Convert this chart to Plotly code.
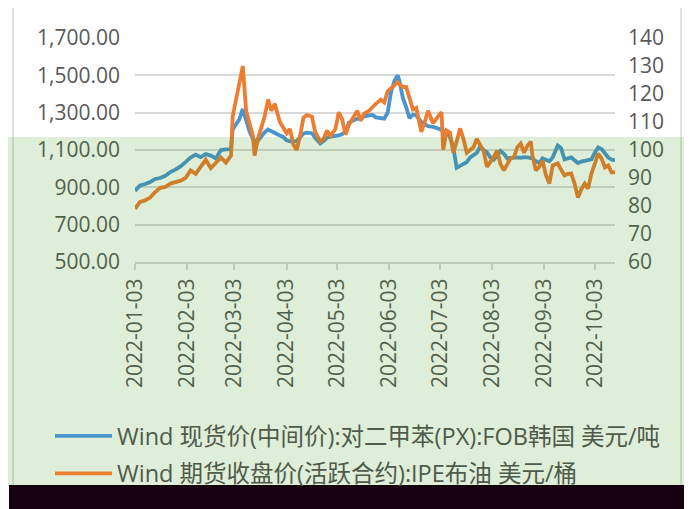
import plotly.graph_objects as go

dates = [
    "2022-01-03", "2022-01-06", "2022-01-09", "2022-01-12", "2022-01-15", "2022-01-18",
    "2022-01-21", "2022-01-24", "2022-01-27", "2022-01-30", "2022-02-02", "2022-02-05",
    "2022-02-08", "2022-02-11", "2022-02-14", "2022-02-17", "2022-02-20", "2022-02-23",
    "2022-02-26", "2022-03-01", "2022-03-02", "2022-03-04", "2022-03-06", "2022-03-08",
    "2022-03-10", "2022-03-12", "2022-03-14", "2022-03-15", "2022-03-17", "2022-03-19",
    "2022-03-21", "2022-03-23", "2022-03-25", "2022-03-27", "2022-03-30", "2022-04-01",
    "2022-04-03", "2022-04-05", "2022-04-07", "2022-04-09", "2022-04-11", "2022-04-13",
    "2022-04-15", "2022-04-18", "2022-04-20", "2022-04-23", "2022-04-25", "2022-04-27",
    "2022-04-29", "2022-05-02", "2022-05-04", "2022-05-06", "2022-05-08", "2022-05-10",
    "2022-05-12", "2022-05-15", "2022-05-17", "2022-05-19", "2022-05-22", "2022-05-24",
    "2022-05-26", "2022-05-29", "2022-05-31", "2022-06-02", "2022-06-04", "2022-06-06",
    "2022-06-08", "2022-06-09", "2022-06-11", "2022-06-13", "2022-06-15", "2022-06-17",
    "2022-06-19", "2022-06-22", "2022-06-24", "2022-06-26", "2022-06-28", "2022-06-29",
    "2022-07-02", "2022-07-04", "2022-07-05", "2022-07-07", "2022-07-09", "2022-07-11",
    "2022-07-13", "2022-07-15", "2022-07-17", "2022-07-19", "2022-07-21", "2022-07-23",
    "2022-07-25", "2022-07-27", "2022-07-29", "2022-07-31", "2022-08-02", "2022-08-04",
    "2022-08-06", "2022-08-08", "2022-08-10", "2022-08-12", "2022-08-14", "2022-08-16",
    "2022-08-18", "2022-08-20", "2022-08-22", "2022-08-24", "2022-08-26", "2022-08-27",
    "2022-08-29", "2022-08-31", "2022-09-02", "2022-09-04", "2022-09-06", "2022-09-08",
    "2022-09-10", "2022-09-11", "2022-09-13", "2022-09-15", "2022-09-17", "2022-09-19",
    "2022-09-21", "2022-09-23", "2022-09-25", "2022-09-27", "2022-09-29", "2022-10-01",
    "2022-10-03", "2022-10-05", "2022-10-07", "2022-10-09", "2022-10-11", "2022-10-13",
    "2022-10-15",
]

px_fob_korea = [
    880, 910, 918, 928, 945, 950, 962, 982, 995, 1012, 1035, 1060,
    1075, 1062, 1078, 1070, 1055, 1100, 1103, 1105, 1210, 1235, 1265, 1320,
    1250, 1200, 1160, 1150, 1150, 1175, 1195, 1210, 1200, 1188, 1178, 1170,
    1152, 1146, 1145, 1148, 1168, 1188, 1193, 1190, 1165, 1135, 1148, 1166,
    1172, 1175, 1178, 1185, 1195, 1247, 1255, 1268, 1265, 1280, 1286, 1288,
    1275, 1270, 1268, 1300, 1410, 1470, 1500, 1470, 1380, 1330, 1270, 1290,
    1285, 1250, 1240, 1228, 1225, 1224, 1215, 1205, 1203, 1198, 1168, 1115,
    1005, 1015, 1028, 1035, 1060, 1070, 1085, 1120, 1100, 1088, 1060, 1048,
    1068, 1095, 1080, 1055, 1058, 1060, 1060, 1058, 1062, 1060, 1058, 1055,
    1040, 1030, 1055, 1045, 1040, 1060, 1110, 1124, 1110, 1050, 1055, 1060,
    1045, 1030, 1038, 1042, 1045, 1050, 1085, 1114, 1105, 1080, 1060, 1048,
    1045,
]

brent_ipe = [
    79, 81.5, 82, 83, 85, 86.5, 86.8, 88, 88.5, 89, 90, 92.7,
    91.5, 94, 96.5, 93.5, 95.5, 97.3, 95.5, 98, 112, 118, 125, 130,
    114, 109, 105, 98, 104, 108, 112, 118, 114, 116.5, 110, 108,
    106, 107.5, 102, 100, 105, 111.5, 112.5, 112, 106.5, 103, 104, 107,
    105, 107.5, 113.5, 111, 105.5, 109, 111, 114, 110.5, 113, 114, 115.5,
    116.5, 118, 117, 121, 122, 123, 124.2, 123.5, 122.5, 122.5, 119, 114.5,
    115, 106.5, 110, 114, 111, 109.5, 112, 113.5, 100, 107, 106.3, 99,
    103, 107.7, 104, 99, 100, 101, 104, 102, 99.5, 94, 95.5, 97.5,
    99.8, 95, 92.7, 95, 97, 97.5, 101, 102.3, 99, 101.5, 103, 98,
    92.7, 94, 96.2, 91, 88, 94.5, 95, 95.2, 93, 90.9, 91.5, 91.6,
    88, 83, 86, 88, 86.2, 91.6, 95, 98.7, 97, 93.8, 94.5, 92,
    92,
]

month_ticks = ["2022-01-03", "2022-02-03", "2022-03-03", "2022-04-03", "2022-05-03",
               "2022-06-03", "2022-07-03", "2022-08-03", "2022-09-03", "2022-10-03"]

name_px = "Wind 现货价(中间价):对二甲苯(PX):FOB韩国 美元/吨"
name_brent = "Wind 期货收盘价(活跃合约):IPE布油 美元/桶"

FONT = "Open Sans, Noto Sans CJK SC, sans-serif"
GRAY = "#595959"

fig = go.Figure()
fig.add_trace(go.Scatter(x=dates, y=px_fob_korea, name=name_px, mode="lines",
                         legendgroup="px",
                         line=dict(color="#4a94cf", width=3.8), yaxis="y"))
fig.add_trace(go.Scatter(x=dates, y=brent_ipe, name=name_brent, mode="lines",
                         legendgroup="brent",
                         line=dict(color="#ed7d31", width=3.8), yaxis="y2"))

OFF = 8  # page body margin
W, H = 692 - OFF, 509 - OFF
L, T = 135 - OFF, 38 - OFF
R = W - (615 - OFF)
B = H - (262 - OFF)
pw, ph = W - L - R, H - T - B


def px2x(p):
    return (p - OFF - L) / pw


def px2y(p):
    return (H - B - (p - OFF)) / ph


fig.update_layout(
    width=W, height=H,
    margin=dict(l=L, r=R, t=T, b=B),
    paper_bgcolor="white", plot_bgcolor="white",
    font=dict(family=FONT, size=21, color=GRAY),
    showlegend=True,
    legend=dict(x=px2x(50), y=px2y(414), xanchor="left", yanchor="top",
                font=dict(size=23.5, color="#4f5a4a"), itemwidth=57,
                bgcolor="rgba(0,0,0,0)", tracegroupgap=4),
    xaxis=dict(type="date", range=["2022-01-03", "2022-10-15"],
               tickmode="array", tickvals=month_ticks, ticktext=month_ticks,
               tickangle=-90, showgrid=False, showline=True, linecolor="#d9d9d9",
               linewidth=2, ticks="outside", ticklen=6, tickcolor="#d9d9d9",
               tickwidth=2, ticklabelstandoff=0, zeroline=False),
    yaxis=dict(range=[500, 1700], dtick=200, tick0=500, tickformat=",.2f",
               showgrid=True, gridcolor="#d9d9d9", gridwidth=2, zeroline=False,
               ticklabelstandoff=14),
    yaxis2=dict(range=[60, 140], dtick=10, tick0=60, overlaying="y", side="right",
                showgrid=False, zeroline=False, ticklabelstandoff=12),
    shapes=[
        dict(type="rect", xref="paper", yref="paper", x0=px2x(13), x1=px2x(681),
             y0=px2y(700), y1=px2y(7), line=dict(color="#d9d9d9", width=1.5),
             fillcolor="rgba(0,0,0,0)", layer="above"),
        dict(type="rect", xref="paper", yref="paper", x0=px2x(8), x1=px2x(700),
             y0=px2y(485), y1=px2y(137), line=dict(width=0),
             fillcolor="rgba(42,142,0,0.15)", layer="above"),
        dict(type="rect", xref="paper", yref="paper", x0=px2x(9), x1=px2x(700),
             y0=px2y(520), y1=px2y(485), line=dict(width=0),
             fillcolor="#160010", layer="above"),
    ],
)

fig.write_html("out.html")
